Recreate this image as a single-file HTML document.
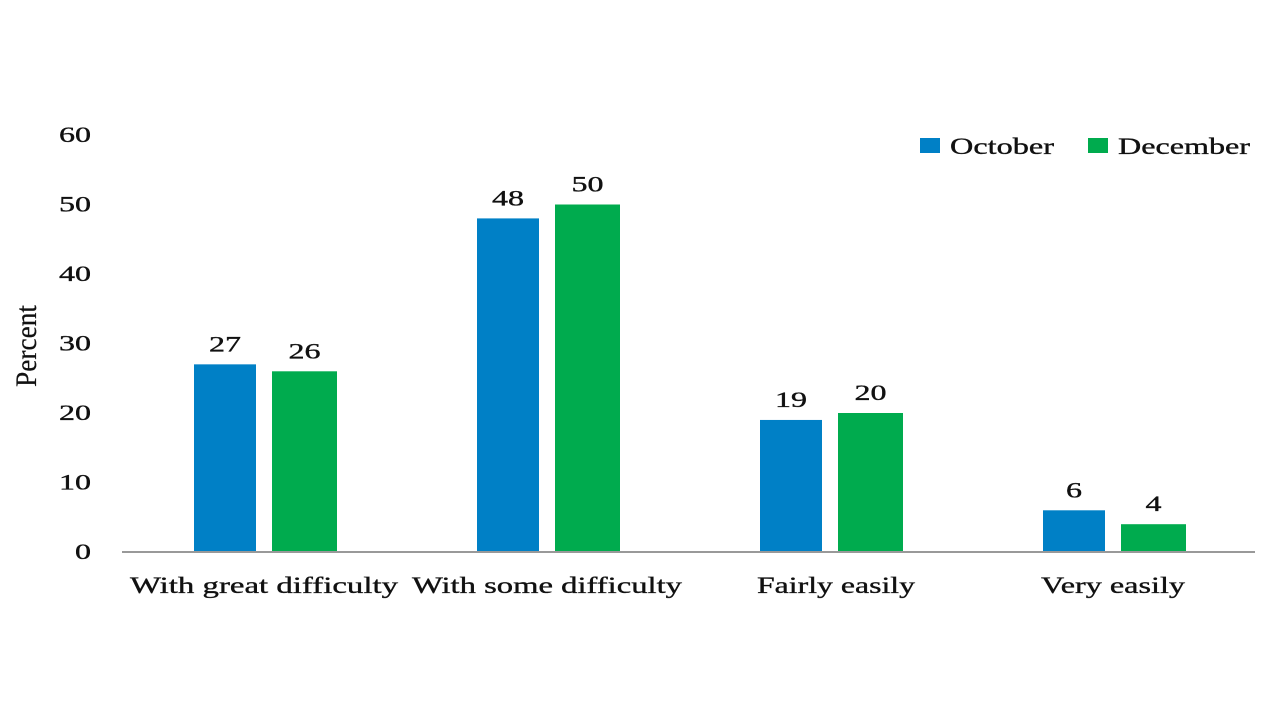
<!DOCTYPE html>
<html><head><meta charset="utf-8"><style>
html,body{margin:0;padding:0;background:#fff;}
svg text{font-family:"Liberation Serif","DejaVu Serif",serif;fill:#111;stroke:#111;stroke-width:0.35;}
</style></head><body>
<svg id="chart" width="1280" height="720" xmlns="http://www.w3.org/2000/svg">
<text transform="translate(36,346) rotate(-90)" text-anchor="middle" font-size="30" textLength="82" lengthAdjust="spacingAndGlyphs" style="stroke-width:0.2">Percent</text>
<g id="yticks"></g>
<g id="bars"></g>
<line x1="122" y1="552" x2="1255" y2="552" stroke="#999" stroke-width="2"/>
<g id="xlabels"></g>
<g>
<g>
<rect x="920" y="138" width="20" height="15" fill="#0080C6"/>
<text x="950" y="154" font-size="23" textLength="104" lengthAdjust="spacingAndGlyphs">October</text></g>
<g>
<rect x="1088" y="138" width="20" height="15" fill="#00AB4E"/>
<text x="1118" y="154" font-size="23" textLength="132" lengthAdjust="spacingAndGlyphs">December</text></g>
</g>
</svg>
<script>
const categories = ["With great difficulty","With some difficulty","Fairly easily","Very easily"];
const october = [27,48,19,6];
const december = [26,50,20,4];
const yTicks = [0,10,20,30,40,50,60];
const catLabelWidths = [268,270,158,144];

const NS="http://www.w3.org/2000/svg";
const y0=552, pxPer=6.95;
function y(v){return y0-v*pxPer;}
function gx(i){return 194+i*283;}
function mk(tag,attrs,parent){const e=document.createElementNS(NS,tag);for(const k in attrs)e.setAttribute(k,attrs[k]);parent.appendChild(e);return e;}
const yt=document.getElementById('yticks');
yTicks.forEach(t=>{
  const n=String(t).length;
  const e=mk('text',{x:91,y:y(t)+7,'text-anchor':'end','font-size':22,textLength:n*16,lengthAdjust:'spacingAndGlyphs'},yt);
  
  
  e.textContent=t;
});
const bg=document.getElementById('bars');
const xl=document.getElementById('xlabels');
categories.forEach((c,i)=>{
  [[october,0,62,'#0080C6','october'],[december,78,65,'#00AB4E','december']].forEach(([arr,off,w,col,nm])=>{
    const v=arr[i];
    const r=mk('rect',{x:gx(i)+off,y:y(v),width:w,height:v*pxPer,fill:col},bg);
    
    
    const n=String(v).length;
    const t=mk('text',{x:gx(i)+off+w/2,y:y(v)-13,'text-anchor':'middle','font-size':22,textLength:n*16,lengthAdjust:'spacingAndGlyphs'},bg);
    
    
    t.textContent=v;
  });
  const cx=gx(i)+70+(i===2?6:0);
  const t=mk('text',{x:cx,y:593,'text-anchor':'middle','font-size':23,textLength:catLabelWidths[i],lengthAdjust:'spacingAndGlyphs'},xl);
  
  
  t.textContent=c;
});
</script>
</body></html>
